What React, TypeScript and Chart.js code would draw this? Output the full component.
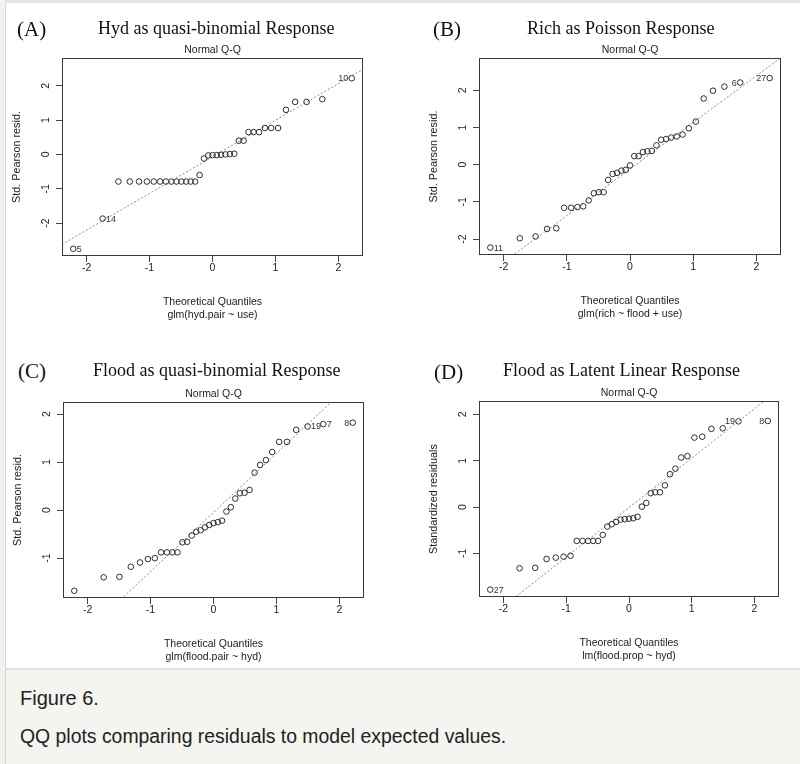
import React, { useEffect, useRef } from "react";
import { Chart, registerables } from "chart.js";

Chart.register(...registerables);

// Theoretical quantiles (x positions of the 37 points)
const quantiles = [
  -2.211, -1.744, -1.494, -1.313, -1.167, -1.042, -0.932, -0.832, -0.74, -0.653,
  -0.572, -0.493, -0.418, -0.346, -0.275, -0.205, -0.136, -0.068, 0, 0.068,
  0.136, 0.205, 0.275, 0.346, 0.418, 0.493, 0.572, 0.653, 0.74, 0.832,
  0.932, 1.042, 1.167, 1.313, 1.494, 1.744, 2.211,
];

// Sorted residuals per panel
const residA = [
  -2.75, -1.87, -0.79, -0.79, -0.79, -0.79, -0.79, -0.79, -0.79, -0.79,
  -0.79, -0.79, -0.79, -0.79, -0.79, -0.6, -0.12, -0.03, -0.02, -0.02,
  -0.01, 0.0, 0.01, 0.02, 0.4, 0.4, 0.65, 0.65, 0.65, 0.77,
  0.77, 0.77, 1.3, 1.53, 1.53, 1.61, 2.22,
];
const residB = [
  -2.23, -1.98, -1.93, -1.73, -1.71, -1.16, -1.16, -1.14, -1.12, -0.96,
  -0.77, -0.74, -0.74, -0.41, -0.25, -0.22, -0.16, -0.14, -0.02, 0.23,
  0.23, 0.34, 0.36, 0.37, 0.52, 0.67, 0.69, 0.73, 0.76, 0.81,
  0.98, 1.16, 1.78, 1.99, 2.1, 2.21, 2.33,
];
const residC = [
  -1.68, -1.4, -1.39, -1.18, -1.09, -1.02, -1.0, -0.88, -0.88, -0.88,
  -0.88, -0.67, -0.66, -0.53, -0.45, -0.42, -0.36, -0.31, -0.27, -0.25,
  -0.22, -0.03, 0.06, 0.24, 0.35, 0.36, 0.42, 0.78, 0.94, 1.04,
  1.21, 1.42, 1.42, 1.67, 1.74, 1.79, 1.82,
];
const residD = [
  -1.78, -1.32, -1.31, -1.12, -1.09, -1.07, -1.05, -0.73, -0.73, -0.73,
  -0.73, -0.73, -0.6, -0.42, -0.37, -0.32, -0.27, -0.26, -0.25, -0.24,
  -0.21, 0.01, 0.09, 0.3, 0.32, 0.32, 0.47, 0.71, 0.83, 1.07,
  1.1, 1.5, 1.52, 1.69, 1.7, 1.85, 1.86,
];

// Axis limits
const xLim = [-2.39, 2.39];
const yLimA = [-2.96, 2.81];
const yLimB = [-2.43, 2.87];
const yLimC = [-1.83, 2.25];
const yLimD = [-1.94, 2.29];

// Reference (qqline) slope / intercept per panel
const qqSlope = [1.067, 1.253, 1.23, 1.067];
const qqIntercept = [-0.07, -0.115, -0.05, -0.01];

// Point id labels: index into the sorted arrays, text, side
type Lab = { i: number; text: string; side: "left" | "right" };
const labelsA: Lab[] = [
  { i: 0, text: "5", side: "right" },
  { i: 1, text: "14", side: "right" },
  { i: 36, text: "10", side: "left" },
];
const labelsB: Lab[] = [
  { i: 0, text: "11", side: "right" },
  { i: 35, text: "6", side: "left" },
  { i: 36, text: "27", side: "left" },
];
const labelsC: Lab[] = [
  { i: 34, text: "19", side: "right" },
  { i: 35, text: "7", side: "right" },
  { i: 36, text: "8", side: "left" },
];
const labelsD: Lab[] = [
  { i: 0, text: "27", side: "right" },
  { i: 35, text: "19", side: "left" },
  { i: 36, text: "8", side: "left" },
];

const panelLetters = ["(A)", "(B)", "(C)", "(D)"];
const panelTitles = [
  "Hyd as quasi-binomial Response",
  "Rich as Poisson Response",
  "Flood as quasi-binomial Response",
  "Flood as Latent Linear Response",
];
const yTitles = ["Std. Pearson resid.", "Std. Pearson resid.", "Std. Pearson resid.", "Standardized residuals"];
const xSubs = ["glm(hyd.pair ~ use)", "glm(rich ~ flood + use)", "glm(flood.pair ~ hyd)", "lm(flood.prop ~ hyd)"];

const SANS = '"Liberation Sans", Arial, Helvetica, sans-serif';
const SERIF = '"Liberation Serif", "Times New Roman", Times, serif';

const AXIS_W = 62;
const RIGHT_PAD = 8;
const TITLE_H = 18;
const XAXIS_H = 65;

type Box = { left: number; top: number; right: number; bottom: number };

function QQChart(props: {
  box: Box;
  resid: number[];
  yLim: number[];
  slope: number;
  intercept: number;
  labels: Lab[];
  yTitle: string;
  xSub: string;
}) {
  const { box, resid, yLim, slope, intercept, labels, yTitle, xSub } = props;
  const ref = useRef<HTMLCanvasElement>(null);
  const width = box.right - box.left + AXIS_W + RIGHT_PAD;
  const height = box.bottom - box.top + TITLE_H + XAXIS_H;

  useEffect(() => {
    const canvas = ref.current;
    if (!canvas) return;
    const points = quantiles.map((q, k) => ({ x: q, y: resid[k] }));
    const lineData = [
      { x: -3, y: intercept - 3 * slope },
      { x: 3, y: intercept + 3 * slope },
    ];

    const boxPlugin = {
      id: "rbox",
      afterDraw(chart: any) {
        const { ctx, chartArea } = chart;
        ctx.save();
        ctx.strokeStyle = "#3a3a3a";
        ctx.lineWidth = 1;
        ctx.strokeRect(
          chartArea.left + 0.5,
          chartArea.top + 0.5,
          chartArea.right - chartArea.left - 1,
          chartArea.bottom - chartArea.top - 1
        );
        ctx.restore();
      },
    };

    const labelPlugin = {
      id: "idlabels",
      afterDatasetsDraw(chart: any) {
        const { ctx } = chart;
        const xs = chart.scales.x;
        const ys = chart.scales.y;
        ctx.save();
        ctx.font = `9px ${SANS}`;
        ctx.fillStyle = "#333";
        ctx.textBaseline = "middle";
        for (const l of labels) {
          const px = xs.getPixelForValue(quantiles[l.i]);
          const py = ys.getPixelForValue(resid[l.i]);
          if (l.side === "right") {
            ctx.textAlign = "left";
            ctx.fillText(l.text, px + 3.4, py + 0.5);
          } else {
            ctx.textAlign = "right";
            ctx.fillText(l.text, px - 3.4, py + 0.5);
          }
        }
        ctx.restore();
      },
    };

    const tickFont = { family: SANS, size: 10.5, lineHeight: 1.2 };

    const chart = new Chart(canvas, {
      type: "scatter",
      data: {
        datasets: [
          {
            type: "line",
            data: lineData,
            borderColor: "#8a8a8a",
            borderWidth: 1,
            borderDash: [2, 2],
            pointRadius: 0,
            fill: false,
            tension: 0,
            order: 2,
          } as any,
          {
            data: points,
            pointStyle: "circle",
            pointRadius: 2.8,
            pointBorderWidth: 1,
            borderColor: "#2e2e2e",
            backgroundColor: "rgba(0,0,0,0)",
            pointBackgroundColor: "rgba(0,0,0,0)",
            pointBorderColor: "#2e2e2e",
            order: 1,
          } as any,
        ],
      },
      options: {
        animation: false,
        responsive: false,
        devicePixelRatio: 1,
        events: [],
        layout: { padding: { left: 0, right: RIGHT_PAD, top: 0, bottom: 0 } },
        plugins: {
          legend: { display: false },
          tooltip: { enabled: false },
          title: {
            display: true,
            text: "Normal Q-Q",
            fullSize: false,
            color: "#222",
            font: { family: SANS, size: 10.5, lineHeight: 1.2, weight: "normal" },
            padding: { top: 4, bottom: 1.4 },
          },
        },
        scales: {
          x: {
            type: "linear",
            position: "bottom",
            min: xLim[0],
            max: xLim[1],
            afterFit: (s: any) => {
              s.height = XAXIS_H;
            },
            border: { display: false },
            grid: { drawOnChartArea: false, drawTicks: true, tickLength: 6, color: "#444", lineWidth: 1 },
            ticks: {
              stepSize: 1,
              includeBounds: false,
              maxRotation: 0,
              minRotation: 0,
              padding: 0,
              color: "#222",
              font: tickFont,
            },
            title: {
              display: true,
              text: ["Theoretical Quantiles", xSub],
              color: "#222",
              font: tickFont,
              padding: { top: 0, bottom: 0 },
            },
          },
          y: {
            type: "linear",
            position: "left",
            min: yLim[0],
            max: yLim[1],
            afterFit: (s: any) => {
              s.width = AXIS_W;
            },
            border: { display: false },
            grid: { drawOnChartArea: false, drawTicks: true, tickLength: 6, color: "#444", lineWidth: 1 },
            ticks: {
              stepSize: 1,
              includeBounds: false,
              minRotation: 90,
              maxRotation: 90,
              crossAlign: "center",
              padding: 5,
              color: "#222",
              font: tickFont,
            },
            title: {
              display: true,
              text: yTitle,
              color: "#222",
              font: { family: SANS, size: 10.8, lineHeight: 1.2 },
              padding: { top: 11, bottom: 0 },
            },
          },
        },
      } as any,
      plugins: [boxPlugin, labelPlugin],
    });
    return () => chart.destroy();
  }, []);

  return (
    <canvas
      ref={ref}
      width={width}
      height={height}
      style={{ position: "absolute", left: box.left - AXIS_W, top: box.top - TITLE_H, width, height }}
    />
  );
}

function HeadText(props: { text: string; left: number; baseline: number; size: number }) {
  const { text, left, baseline, size } = props;
  return (
    <div
      style={{
        position: "absolute",
        left,
        top: baseline - size * 0.8375,
        fontFamily: SERIF,
        fontSize: size,
        lineHeight: 1,
        color: "#111",
        whiteSpace: "nowrap",
      }}
    >
      {text}
    </div>
  );
}

const boxes: Box[] = [
  { left: 62, top: 58, right: 363, bottom: 256 },
  { left: 479, top: 58, right: 781, bottom: 255 },
  { left: 63, top: 402, right: 364, bottom: 598 },
  { left: 479, top: 401, right: 779, bottom: 597 },
];
const letterPos = [
  { left: 17, baseline: 36.5 },
  { left: 433, baseline: 36.5 },
  { left: 18, baseline: 379 },
  { left: 434, baseline: 380 },
];
const titlePos = [
  { left: 98, baseline: 34.5 },
  { left: 527, baseline: 34.5 },
  { left: 93, baseline: 376 },
  { left: 503, baseline: 376 },
];

export default function App() {
  const resids = [residA, residB, residC, residD];
  const yLims = [yLimA, yLimB, yLimC, yLimD];
  const labs = [labelsA, labelsB, labelsC, labelsD];
  return (
    <div
      style={{
        position: "absolute",
        left: 0,
        top: 0,
        width: 800,
        height: 764,
        background: "#ffffff",
        overflow: "hidden",
      }}
    >
      <div style={{ position: "absolute", left: 0, top: 0, width: 800, height: 3, background: "#e4e4e4" }} />
      <div style={{ position: "absolute", left: 0, top: 0, width: 5, height: 764, background: "#f1f1ef" }} />
      <div style={{ position: "absolute", left: 5, top: 3, width: 1, height: 665, background: "#d6d6d6" }} />
      {boxes.map((b, k) => (
        <QQChart
          key={k}
          box={b}
          resid={resids[k]}
          yLim={yLims[k]}
          slope={qqSlope[k]}
          intercept={qqIntercept[k]}
          labels={labs[k]}
          yTitle={yTitles[k]}
          xSub={xSubs[k]}
        />
      ))}
      {panelLetters.map((t, k) => (
        <HeadText key={"l" + k} text={t} left={letterPos[k].left} baseline={letterPos[k].baseline} size={21} />
      ))}
      {panelTitles.map((t, k) => (
        <HeadText key={"t" + k} text={t} left={titlePos[k].left} baseline={titlePos[k].baseline} size={18} />
      ))}
      <div
        style={{
          position: "absolute",
          left: 5,
          top: 668,
          width: 795,
          height: 96,
          background: "#f4f4f0",
          borderTop: "2px solid #e0e0dc",
          borderLeft: "1px solid #d6d6d2",
        }}
      />
      <div
        style={{
          position: "absolute",
          left: 20,
          top: 705 - 20 * 0.8465,
          fontFamily: SANS,
          fontSize: 20,
          lineHeight: 1,
          color: "#222",
          whiteSpace: "nowrap",
        }}
      >
        Figure 6.
      </div>
      <div
        style={{
          position: "absolute",
          left: 20,
          top: 743 - 19.4 * 0.8465,
          fontFamily: SANS,
          fontSize: 19.4,
          lineHeight: 1,
          color: "#222",
          whiteSpace: "nowrap",
        }}
      >
        QQ plots comparing residuals to model expected values.
      </div>
    </div>
  );
}
